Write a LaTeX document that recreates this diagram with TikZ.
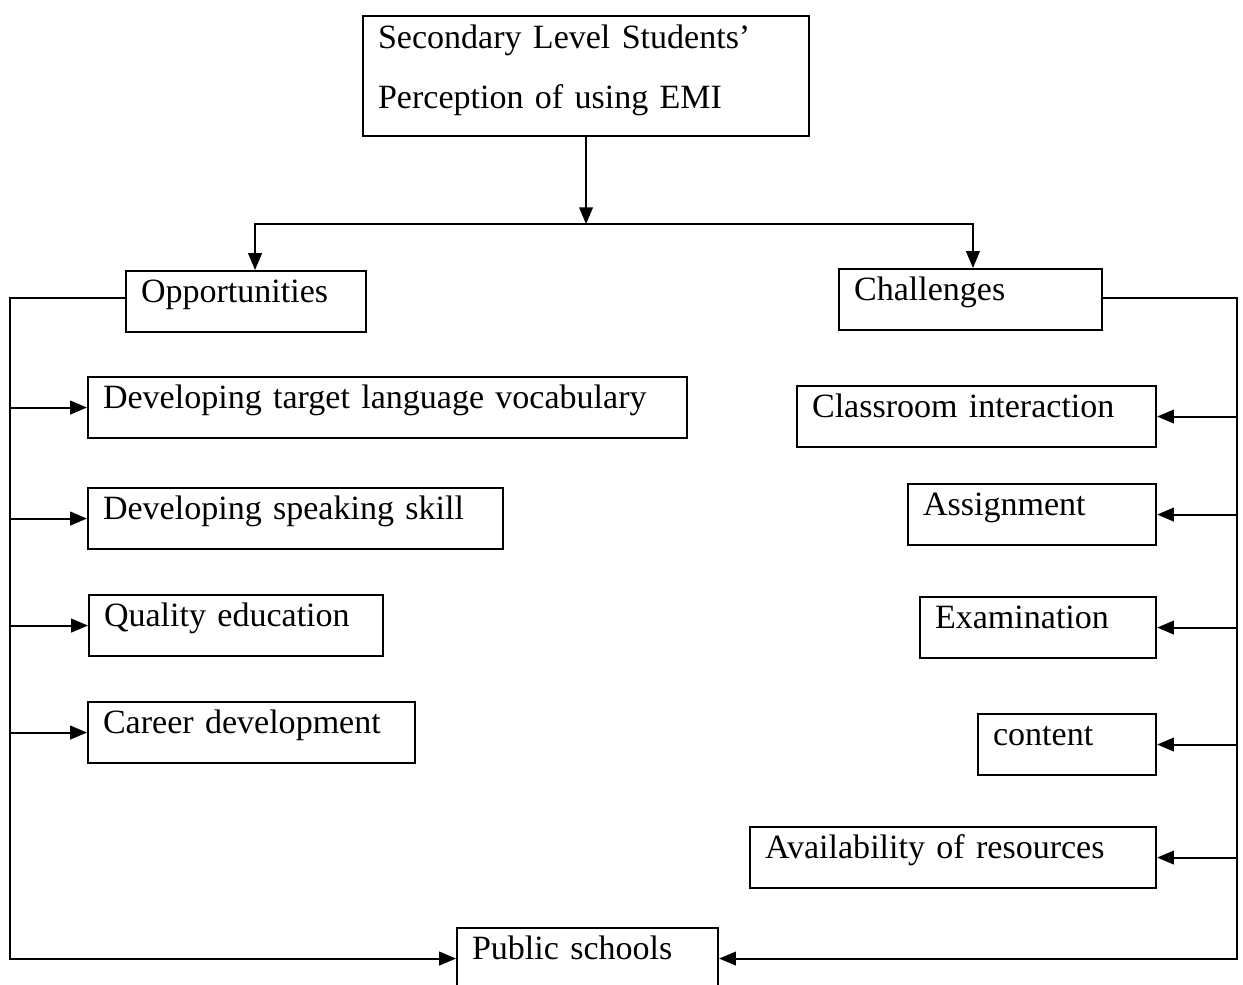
\documentclass[tikz,border=0pt]{standalone}
\usepackage{fontspec}
\setmainfont{Liberation Serif}
\usetikzlibrary{
    arrows.meta,
    positioning
}
\newcommand{\boxfont}{\fontsize{24.2}{29}\selectfont}
\tikzset{
    line cap=butt,
    box/.style={
        draw=black,
        line width=1.5pt,
        anchor=north west,
        align=left,
        inner xsep=0.375cm,
        inner ysep=0pt,
        text height=0.78cm,
        text depth=0.745cm,
        font=\boxfont
    },
    link/.style={
        draw=black,
        line width=1.4pt
    },
    flow/.style={
        link,
        -{Triangle[length=0.42cm, width=0.34cm]}
    }
}

\begin{document}
\begin{tikzpicture}
\useasboundingbox (0, 0) rectangle (31.075, -24.625);

% Main topic
\node[box, text width=10.4cm, text height=0.8cm, text depth=2.2cm,
    font=\fontsize{24.2}{42.7}\selectfont] (topic) at (9.05, -0.375)
    {Secondary Level Students'\\Perception of using EMI};

% Two branches
\node[box, text width=5.25cm] (opp) at (3.125, -6.75) {Opportunities};
\node[box, text width=5.825cm] (chal) at (20.95, -6.7) {Challenges};

% === LEFT: opportunities ===
\node[box, text width=14.225cm] (vocab) at (2.175, -9.4) {Developing target language vocabulary};
\node[box, text width=9.625cm] (speak) at (2.175, -12.175) {Developing speaking skill};
\node[box, text width=6.6cm] (quality) at (2.2, -14.85) {Quality education};
\node[box, text width=7.425cm] (career) at (2.175, -17.525) {Career development};

% === RIGHT: challenges ===
\node[box, text width=8.225cm] (class) at (19.9, -9.625) {Classroom interaction};
\node[box, text width=5.45cm] (assign) at (22.675, -12.075) {Assignment};
\node[box, text width=5.15cm] (exam) at (22.975, -14.9) {Examination};
\node[box, text width=3.7cm] (content) at (24.425, -17.825) {content};
\node[box, text width=9.4cm] (resource) at (18.725, -20.65) {Availability of resources};

% Common end
\node[box, text width=5.775cm] (public) at (11.4, -23.175) {Public schools};

% Split under the topic
\coordinate (split) at ([yshift=-2.175cm]topic.south);
\draw[flow] (topic.south) -- (split);
\draw[flow] (split) -| ([xshift=0.225cm]opp.north);
\draw[flow] (split) -| ([xshift=0.06cm]chal.north);

% Side trunks
\coordinate (ltrunk) at (0.25, -7.45);
\coordinate (rtrunk) at (30.925, -7.45);
\draw[flow] (opp.west |- ltrunk) -- (ltrunk) |- (public.west);
\draw[flow] (chal.east |- rtrunk) -- (rtrunk) |- (public.east);

\foreach \n in {vocab, speak, quality, career}
    \draw[flow] (ltrunk |- \n.west) -- (\n.west);
\foreach \n in {class, assign, exam, content, resource}
    \draw[flow] (rtrunk |- \n.east) -- (\n.east);

\end{tikzpicture}
\end{document}
